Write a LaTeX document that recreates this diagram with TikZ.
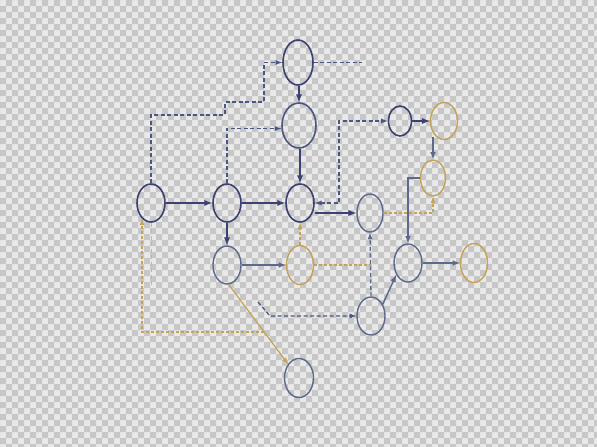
\documentclass[tikz,border=0pt]{standalone}
\usepackage{tikz}
\usetikzlibrary{arrows, shapes.geometric}

\definecolor{navy}{HTML}{3B4170}
\definecolor{slate}{HTML}{5B6A8C}
\definecolor{dashnavy}{HTML}{4C5682}
\definecolor{goldline}{HTML}{C6A258}
\definecolor{faintline}{HTML}{B2B9C8}
\definecolor{chklight}{HTML}{E9E9E9}
\definecolor{chkdark}{HTML}{C7C7C7}

\tikzset{
  bubble/.style={ellipse, draw=navy, line width=1.6pt, minimum width=28pt, minimum height=38pt, inner sep=0pt},
  softbubble/.style={bubble, draw=slate, line width=1.4pt},
  goldbubble/.style={bubble, draw=goldline, line width=1.4pt},
  link/.style={-latex, line width=1.7pt, draw=navy},
  softlink/.style={-latex, line width=1.5pt, draw=slate},
  dashlink/.style={-latex, line width=1.3pt, draw=dashnavy, dash pattern=on 4pt off 2.5pt},
  goldlink/.style={-latex, line width=1.2pt, draw=goldline},
  golddash/.style={goldlink, dash pattern=on 3pt off 2pt}
}

\begin{document}
\begin{tikzpicture}[x=1pt, y=-1pt]
    \useasboundingbox (0,0) rectangle (597,447);
    \begin{scope}
    \clip (0,0) rectangle (597,447);
    \fill[chklight] (0,0) rectangle (597,447);
    \fill[chkdark, even odd rule] \foreach \r in {0,...,37} {(0,12*\r) rectangle (597,12*\r+6)}
        \foreach \c in {0,...,49} {(12*\c,0) rectangle (12*\c+6,447)};
    \end{scope}

    \node[bubble, minimum width=30pt, minimum height=45pt] (a) at (298,62.5) {};
    \node[bubble, draw=dashnavy, minimum width=34pt, minimum height=45pt] (b) at (299,125.5) {};
    \node[bubble] (c) at (151,203) {};
    \node[bubble] (d) at (227,203) {};
    \node[bubble] (e) at (300,203) {};
    \node[softbubble, minimum width=26pt] (f) at (370,213) {};
    \node[softbubble] (g) at (227,265) {};
    \node[goldbubble, minimum width=27pt, minimum height=39pt] (h) at (300,265) {};
    \node[bubble, minimum width=23pt, minimum height=30pt] (i) at (400,121) {};
    \node[goldbubble, minimum width=27pt, minimum height=37pt] (j) at (444,121) {};
    \node[goldbubble, minimum width=25pt, minimum height=36pt] (k) at (433,178) {};
    \node[softbubble] (l) at (408,263) {};
    \node[goldbubble, minimum width=27pt, minimum height=39pt] (m) at (474,263) {};
    \node[softbubble] (n) at (371,316) {};
    \node[softbubble, minimum width=29pt, minimum height=39pt] (o) at (299,378) {};

    \coordinate (aout) at (362,62.5);
    \coordinate (hout) at (371,265);
    \coordinate (gtap) at (264,332);
    \coordinate (nin) at (258,302);

    \draw[link] (b.north |- a.south) -- (b.north);
    \draw[link] (e.north |- b.south) -- (e.north);
    \draw[link] (c.east) -- (d.west);
    \draw[link] (d.east) -- (e.west);
    \draw[link] (d.south) -- (g.north);
    \draw[link] (e.east |- f.west) -- (f.west);
    \draw[link] (i.east) -- (j.west);
    \draw[softlink] (g.east) -- (h.west);
    \draw[softlink] (l.east) -- (m.west);
    \draw[softlink] (n.45) -- (l.225);
    \draw[softlink] (k.west) -| (l.north);
    \draw[softlink] (k.north |- j.245) -- (k.north);

    \draw[dashlink] (c.north) |- (225,115) -- (225,102) -- (264,102) |- (a.west);
    \draw[dashlink] (d.north) |- (b.190);
    \draw[dashlink, -] (a.east) -- (aout);
    \draw[dashlink, latex-latex] (e.east) -- (339,203) |- (i.west);
    \draw[dashlink] (nin) -- (270,316) -- (n.west);
    \draw[dashlink, draw=slate] (n.north) -- (f.south);
    \draw[dashlink, -, draw=faintline, line width=1pt] (c.south) -- (151,287);

    \draw[golddash] (h.north) -- (e.south);
    \draw[golddash, -] (h.east) -- (hout);
    \draw[golddash] (f.east) -| (k.south);
    \draw[goldlink] (g.-85) -- (o.128);
    \draw[golddash] (gtap) -| (c.240);
\end{tikzpicture}
\end{document}
